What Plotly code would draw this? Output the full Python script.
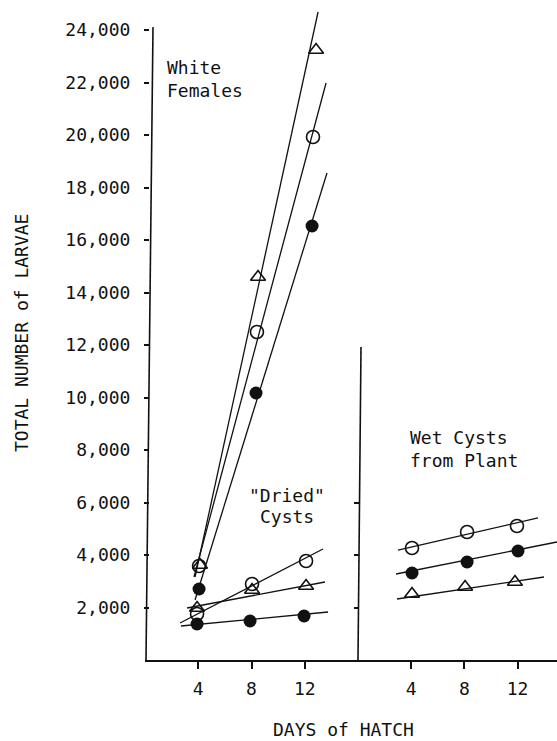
import plotly.graph_objects as go

W, H = 557, 741
FONT = "DejaVu Sans Mono"
INK = "#111111"

# ---- axis ticks ----
y_tickvals = [2000 * i for i in range(1, 13)]
y_ticktext = [f"{v:,}" for v in y_tickvals]
x_tickvals = [4, 8, 12]
x_ticktext = ["4", "8", "12"]
right_ticks = [2000, 4000, 6000]

# ---- White Females (left panel): observed points ----
wf_tri_x = [4.13, 8.49, 12.85]
wf_tri_y = [3619, 14590, 23238]
wf_open_x = [4.06, 8.41, 12.62]
wf_open_y = [3581, 12495, 19924]
wf_fill_x = [4.06, 8.34, 12.55]
wf_fill_y = [2705, 10171, 16533]
# fitted lines (end points)
wf_tri_line_x = [3.76, 13.0]
wf_tri_line_y = [3162, 24686]
wf_open_line_x = [3.68, 13.6]
wf_open_line_y = [3162, 21981]
wf_fill_line_x = [3.76, 13.67]
wf_fill_line_y = [2286, 18552]

# ---- "Dried" Cysts (left panel) ----
dr_open_x = [3.91, 8.04, 12.1]
dr_open_y = [1752, 2895, 3771]
dr_tri_x = [3.91, 8.04, 12.1]
dr_tri_y = [1981, 2667, 2819]
dr_fill_x = [3.91, 7.89, 11.95]
dr_fill_y = [1371, 1486, 1676]
dr_open_line_x = [2.63, 13.37]
dr_open_line_y = [1410, 4229]
dr_tri_line_x = [3.16, 13.52]
dr_tri_line_y = [1981, 2971]
dr_fill_line_x = [2.70, 13.75]
dr_fill_line_y = [1295, 1829]

# ---- Wet Cysts from Plant (right panel) ----
wc_open_x = [4.06, 8.2, 11.95]
wc_open_y = [4267, 4876, 5105]
wc_fill_x = [4.06, 8.2, 12.03]
wc_fill_y = [3314, 3733, 4152]
wc_tri_x = [4.06, 8.05, 11.8]
wc_tri_y = [2514, 2781, 2971]
wc_open_line_x = [3.01, 13.53]
wc_open_line_y = [4190, 5410]
wc_fill_line_x = [2.86, 14.96]
wc_fill_line_y = [3276, 4495]
wc_tri_line_x = [2.93, 13.98]
wc_tri_line_y = [2324, 3162]

fig = go.Figure()

LINE = dict(color=INK, width=1.3)
OPEN = dict(symbol="circle-open", size=13, color=INK, line=dict(width=1.6, color=INK))
FILL = dict(symbol="circle", size=13, color=INK, line=dict(width=0))
TRI = dict(symbol="triangle-up-open", size=13, color=INK, line=dict(width=1.6, color=INK))

left_lines = [
    (wf_tri_line_x, wf_tri_line_y), (wf_open_line_x, wf_open_line_y),
    (wf_fill_line_x, wf_fill_line_y), (dr_open_line_x, dr_open_line_y),
    (dr_tri_line_x, dr_tri_line_y), (dr_fill_line_x, dr_fill_line_y),
]
for lx, ly in left_lines:
    fig.add_trace(go.Scatter(x=lx, y=ly, mode="lines", line=LINE,
                             xaxis="x", yaxis="y", showlegend=False, hoverinfo="skip"))

right_lines = [
    (wc_open_line_x, wc_open_line_y), (wc_fill_line_x, wc_fill_line_y),
    (wc_tri_line_x, wc_tri_line_y),
]
for lx, ly in right_lines:
    fig.add_trace(go.Scatter(x=lx, y=ly, mode="lines", line=LINE,
                             xaxis="x2", yaxis="y2", showlegend=False, hoverinfo="skip"))

left_pts = [
    (wf_tri_x, wf_tri_y, TRI), (wf_open_x, wf_open_y, OPEN), (wf_fill_x, wf_fill_y, FILL),
    (dr_open_x, dr_open_y, OPEN), (dr_tri_x, dr_tri_y, TRI), (dr_fill_x, dr_fill_y, FILL),
]
for px, py, mk in left_pts:
    fig.add_trace(go.Scatter(x=px, y=py, mode="markers", marker=mk,
                             xaxis="x", yaxis="y", showlegend=False, cliponaxis=False))

right_pts = [
    (wc_open_x, wc_open_y, OPEN), (wc_fill_x, wc_fill_y, FILL), (wc_tri_x, wc_tri_y, TRI),
]
for px, py, mk in right_pts:
    fig.add_trace(go.Scatter(x=px, y=py, mode="markers", marker=mk,
                             xaxis="x2", yaxis="y2", showlegend=False, cliponaxis=False))

YMAX = 25143
TICKFONT = dict(family=FONT, size=18, color=INK)

fig.update_layout(
    width=W, height=H,
    margin=dict(l=0, r=0, t=0, b=81),
    paper_bgcolor="white", plot_bgcolor="white",
    showlegend=False,
    xaxis=dict(domain=[145 / W, 358 / W], range=[0, 16], anchor="y",
               tickvals=x_tickvals, ticktext=x_ticktext, ticks="outside",
               ticklen=7, tickwidth=1.5, tickcolor=INK, showline=True,
               linewidth=2, linecolor=INK, showgrid=False, zeroline=False,
               tickfont=TICKFONT, ticklabelstandoff=4),
    xaxis2=dict(domain=[358 / W, 1], range=[0, 14.96], anchor="y",
                tickvals=x_tickvals, ticktext=x_ticktext, ticks="outside",
                ticklen=7, tickwidth=1.5, tickcolor=INK, showline=True,
                linewidth=2, linecolor=INK, showgrid=False, zeroline=False,
                tickfont=TICKFONT, ticklabelstandoff=4),
    yaxis=dict(range=[0, YMAX], anchor="free", position=149 / W,
               tickvals=y_tickvals, ticktext=y_ticktext, ticks="outside",
               ticklen=5, tickwidth=1.5, tickcolor=INK, showline=False,
               showgrid=False, zeroline=False, tickfont=TICKFONT,
               ticklabelstandoff=10),
    yaxis2=dict(range=[0, YMAX], overlaying="y", anchor="free",
                position=359 / W, side="left", tickvals=right_ticks,
                ticks="outside", ticklen=5, tickwidth=1.5, tickcolor=INK,
                showticklabels=False, showline=False, showgrid=False,
                zeroline=False),
    shapes=[
        dict(type="line", xref="paper", yref="y", x0=146 / W, y0=0,
             x1=153 / W, y1=24110, line=dict(color=INK, width=1.6)),
        dict(type="line", xref="paper", yref="y", x0=358 / W, y0=0,
             x1=361 / W, y1=11924, line=dict(color=INK, width=1.6)),
    ],
)


def px2paper(px, py):
    return px / W, (660 - py) / 660


texts = [
    ("White", 165, 67, "left"),
    ("Females", 165, 90, "left"),
    ("\"Dried\"", 287, 495, "center"),
    ("Cysts", 287, 516, "center"),
    ("Wet Cysts", 408, 438, "left"),
    ("from Plant", 408, 460, "left"),
    ("DAYS of HATCH", 343, 730, "center"),
]
for t, px, py, xa in texts:
    xp, yp = px2paper(px, py)
    fig.add_annotation(text=t, x=xp, y=yp, xref="paper", yref="paper",
                       xanchor=xa, yanchor="middle", showarrow=False,
                       font=dict(family=FONT, size=18, color=INK))

xp, yp = px2paper(21, 333)
fig.add_annotation(text="TOTAL NUMBER of LARVAE", x=xp, y=yp, xref="paper",
                   yref="paper", xanchor="center", yanchor="middle",
                   textangle=-90, showarrow=False,
                   font=dict(family=FONT, size=18, color=INK))

fig.write_html("out.html")
